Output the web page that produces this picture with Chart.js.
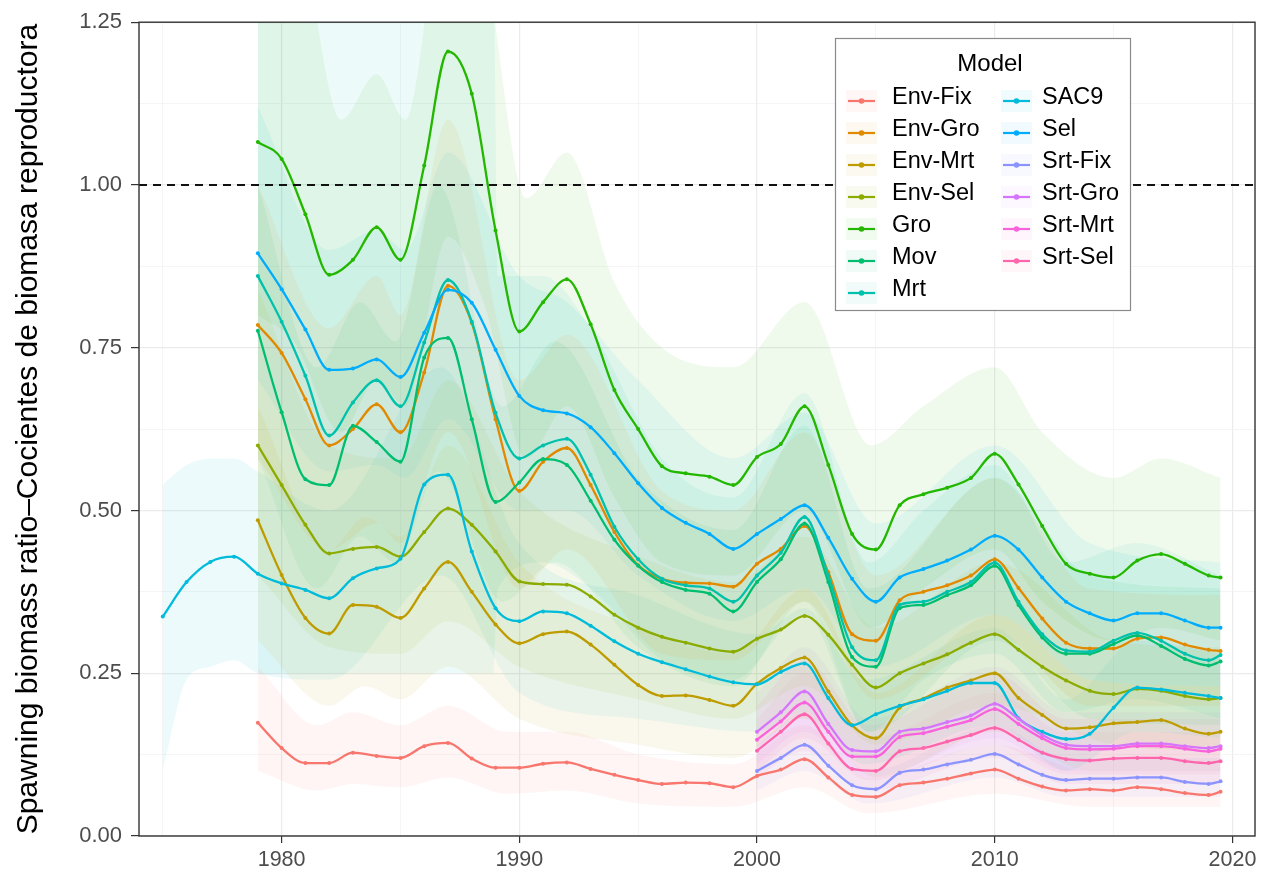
<!DOCTYPE html>
<html>
<head>
<meta charset="utf-8">
<title>Spawning biomass ratio by model</title>
<script src="https://cdn.jsdelivr.net/npm/chart.js@4.4.1/dist/chart.umd.min.js"></script>
<style>
  html, body { margin: 0; padding: 0; background: #ffffff; }
  canvas { display: block; }
</style>
</head>
<body>
<canvas id="sbr" width="1266" height="878"></canvas>
<script>
// ---- time axis (annual points, last one is mid-2019) ----
const YEARS = [1975,1976,1977,1978,1979,1980,1981,1982,1983,1984,1985,1986,1987,1988,1989,1990,
  1991,1992,1993,1994,1995,1996,1997,1998,1999,2000,2001,2002,2003,2004,2005,2006,2007,2008,2009,
  2010,2011,2012,2013,2014,2015,2016,2017,2018,2019,2019.5];
const YEARS_SAC9 = YEARS;                 // from 1975
const YEARS_MAIN = YEARS.slice(4);        // from 1979
const YEARS_SRT  = YEARS.slice(25);       // from 2000

const X_TICKS_MAJOR = [1980, 1990, 2000, 2010, 2020];
const Y_TICKS_MAJOR = [0, 0.25, 0.5, 0.75, 1, 1.25];
const REF_LEVEL = 1.0;

// ---- spawning biomass ratio, per model ----
const ENV_FIX = [0.174,0.135,0.112,0.112,0.128,0.123,0.120,0.138,0.143,0.119,
  0.105,0.105,0.111,0.113,0.103,0.094,0.086,0.080,0.082,0.081,
  0.075,0.092,0.102,0.118,0.090,0.063,0.060,0.078,0.082,0.088,
  0.096,0.102,0.088,0.076,0.070,0.072,0.070,0.075,0.072,0.066,
  0.063,0.068];
const ENV_GRO = [0.785,0.742,0.671,0.600,0.625,0.663,0.620,0.712,0.845,0.788,
  0.640,0.530,0.575,0.596,0.539,0.467,0.416,0.395,0.389,0.388,
  0.383,0.418,0.441,0.476,0.405,0.310,0.300,0.362,0.375,0.385,
  0.400,0.425,0.381,0.334,0.297,0.288,0.288,0.303,0.305,0.294,
  0.286,0.284];
const ENV_MRT = [0.485,0.401,0.335,0.311,0.355,0.352,0.335,0.380,0.421,0.375,
  0.325,0.296,0.310,0.314,0.294,0.263,0.232,0.215,0.216,0.209,
  0.200,0.234,0.258,0.274,0.222,0.170,0.150,0.197,0.211,0.228,
  0.239,0.250,0.212,0.186,0.165,0.167,0.173,0.175,0.178,0.165,
  0.157,0.160];
const ENV_SEL = [0.600,0.539,0.478,0.434,0.441,0.444,0.429,0.467,0.503,0.478,
  0.437,0.391,0.387,0.386,0.368,0.340,0.320,0.306,0.297,0.288,
  0.283,0.303,0.317,0.338,0.309,0.263,0.228,0.250,0.265,0.279,
  0.297,0.310,0.286,0.260,0.239,0.223,0.218,0.226,0.223,0.215,
  0.210,0.212];
const GRO = [1.066,1.040,0.955,0.862,0.885,0.935,0.885,1.030,1.205,1.140,
  0.930,0.775,0.820,0.855,0.786,0.685,0.625,0.568,0.557,0.552,
  0.539,0.582,0.602,0.660,0.570,0.464,0.440,0.508,0.525,0.535,
  0.550,0.587,0.540,0.476,0.418,0.403,0.397,0.423,0.433,0.418,
  0.400,0.397];
const MOV = [0.776,0.651,0.548,0.539,0.630,0.605,0.575,0.735,0.765,0.640,
  0.513,0.543,0.579,0.570,0.515,0.455,0.415,0.390,0.378,0.372,
  0.345,0.390,0.425,0.480,0.390,0.275,0.260,0.350,0.355,0.370,
  0.385,0.415,0.355,0.305,0.280,0.280,0.295,0.308,0.292,0.272,
  0.262,0.268];
const MRT = [0.860,0.790,0.707,0.615,0.666,0.700,0.660,0.758,0.854,0.790,
  0.650,0.580,0.600,0.610,0.555,0.475,0.425,0.395,0.385,0.380,
  0.360,0.400,0.435,0.490,0.400,0.290,0.270,0.355,0.360,0.375,
  0.390,0.420,0.360,0.310,0.285,0.283,0.300,0.312,0.300,0.280,
  0.270,0.278];
const SAC9 = [0.337,0.390,0.421,0.429,0.403,0.388,0.378,0.365,0.396,0.411,
  0.426,0.540,0.555,0.437,0.350,0.330,0.345,0.342,0.323,0.299,
  0.280,0.267,0.256,0.245,0.236,0.233,0.252,0.265,0.212,0.170,
  0.187,0.200,0.210,0.223,0.235,0.235,0.181,0.160,0.149,0.157,
  0.197,0.228,0.225,0.220,0.215,0.212];
const SEL = [0.895,0.840,0.778,0.716,0.718,0.732,0.705,0.773,0.839,0.819,
  0.747,0.676,0.654,0.649,0.628,0.588,0.542,0.504,0.481,0.464,
  0.441,0.464,0.487,0.508,0.458,0.395,0.360,0.397,0.410,0.423,
  0.440,0.461,0.440,0.397,0.360,0.342,0.331,0.342,0.342,0.331,
  0.320,0.320];
const SRT_FIX = [0.100,0.120,0.140,0.108,0.078,0.072,0.097,0.102,0.110,0.117,
  0.126,0.110,0.094,0.086,0.088,0.088,0.090,0.090,0.083,0.080,0.084];
const SRT_GRO = [0.160,0.190,0.222,0.172,0.132,0.130,0.160,0.165,0.175,0.185,
  0.203,0.180,0.155,0.140,0.138,0.138,0.142,0.142,0.138,0.135,0.138];
const SRT_MRT = [0.148,0.176,0.205,0.160,0.122,0.122,0.152,0.158,0.168,0.178,
  0.195,0.172,0.150,0.135,0.133,0.134,0.138,0.138,0.134,0.130,0.134];
const SRT_SEL = [0.131,0.160,0.187,0.142,0.103,0.100,0.130,0.135,0.145,0.155,
  0.166,0.148,0.128,0.118,0.116,0.119,0.120,0.120,0.115,0.112,0.115];

// ---- uncertainty bands (year, lower, upper) ----
const ENV_FIX_BX = [1979,1981.5,1983,1985,1987,1989.5,1992,1995,1999,2002,2004.7,2010,2014,2019.5];
const ENV_FIX_LO = [0.10,0.07,0.08,0.075,0.09,0.065,0.07,0.05,0.045,0.075,0.035,0.065,0.045,0.045];
const ENV_FIX_HI = [0.26,0.17,0.19,0.17,0.20,0.16,0.16,0.125,0.11,0.17,0.09,0.14,0.10,0.10];

const ENV_GRO_BX = [1979,1982,1984,1985,1987,1990,1992,1996,1999,2002,2005,2010,2014,2019.5];
const ENV_GRO_LO = [0.58,0.44,0.48,0.45,0.62,0.38,0.44,0.28,0.27,0.36,0.21,0.31,0.20,0.20];
const ENV_GRO_HI = [1.00,0.78,0.86,0.80,1.10,0.70,0.77,0.53,0.50,0.62,0.40,0.55,0.38,0.37];

const ENV_MRT_BX = [1979,1982,1983.5,1985,1987,1990,1995,1999,2002,2005,2010,2014,2019.5];
const ENV_MRT_LO = [0.30,0.20,0.23,0.21,0.26,0.18,0.14,0.12,0.18,0.09,0.16,0.10,0.10];
const ENV_MRT_HI = [0.66,0.44,0.49,0.46,0.60,0.42,0.32,0.28,0.38,0.22,0.34,0.24,0.23];

const ENV_SEL_BX = [1979,1982,1985,1987,1990,1995,1999,2002,2005,2010,2015,2019.5];
const ENV_SEL_LO = [0.40,0.29,0.28,0.33,0.26,0.21,0.18,0.23,0.14,0.20,0.14,0.13];
const ENV_SEL_HI = [0.84,0.60,0.58,0.70,0.53,0.43,0.39,0.46,0.32,0.42,0.30,0.29];

const GRO_BX = [1979,1980.5,1982.5,1984,1985.2,1987,1988.5,1990.3,1992,1994,1996,1999,2002,2004.8,2007,2010,2012,2015,2017,2019.5];
const GRO_LO = [0.80,0.76,0.62,0.70,0.66,0.92,0.82,0.58,0.66,0.52,0.42,0.40,0.50,0.32,0.38,0.44,0.36,0.30,0.32,0.30];
const GRO_HI = [1.40,1.40,1.10,1.17,1.10,1.45,1.35,0.98,1.05,0.85,0.75,0.72,0.82,0.60,0.66,0.72,0.62,0.55,0.58,0.55];

const MOV_BX = [1979,1981.5,1983.3,1984.8,1986.6,1989.3,1991.5,1995,1999,2002,2004.7,2010,2014,2019.5];
const MOV_LO = [0.58,0.38,0.46,0.42,0.56,0.36,0.42,0.29,0.23,0.36,0.16,0.30,0.18,0.17];
const MOV_HI = [1.00,0.72,0.82,0.76,1.00,0.66,0.76,0.55,0.47,0.63,0.38,0.55,0.40,0.38];

const MRT_BX = [1979,1988.9,1989.1,1991,1993,1996,1999,2002,2004.7,2007,2010,2013,2016,2019.5];
const MRT_LO = [0.25,0.25,0.38,0.42,0.38,0.27,0.24,0.34,0.16,0.24,0.28,0.19,0.21,0.18];
const MRT_HI = [1.35,1.35,0.86,0.86,0.78,0.58,0.52,0.68,0.42,0.50,0.57,0.42,0.45,0.40];

const SAC9_BX = [1975,1976,1977,1978,1979,1982,1986.7,1990,1995,2000,2002,2004.5,2010,2013,2016,2019.5];
const SAC9_LO = [0.10,0.24,0.26,0.27,0.25,0.24,0.40,0.22,0.18,0.16,0.19,0.11,0.17,0.10,0.16,0.15];
const SAC9_HI = [0.54,0.57,0.58,0.58,0.56,0.50,0.72,0.45,0.37,0.31,0.35,0.24,0.32,0.21,0.30,0.28];

const SEL_BX = [1979,1982,1984,1985.2,1987,1990,1992,1995,1999,2002,2005,2010,2014,2019.5];
const SEL_LO = [0.70,0.56,0.57,0.55,0.64,0.50,0.50,0.40,0.33,0.38,0.26,0.34,0.24,0.23];
const SEL_HI = [1.12,0.90,0.93,0.90,1.05,0.86,0.82,0.70,0.58,0.65,0.48,0.60,0.45,0.42];

const SRT_BX = [2000,2002,2004.7,2010,2013,2019.5];
const SRT_FIX_LO = [0.07,0.10,0.05,0.09,0.06,0.06];
const SRT_FIX_HI = [0.14,0.19,0.10,0.17,0.12,0.12];
const SRT_GRO_LO = [0.11,0.16,0.09,0.15,0.10,0.10];
const SRT_GRO_HI = [0.22,0.29,0.18,0.26,0.19,0.19];
const SRT_MRT_LO = [0.10,0.15,0.085,0.14,0.095,0.095];
const SRT_MRT_HI = [0.20,0.27,0.17,0.25,0.18,0.18];
const SRT_SEL_LO = [0.09,0.13,0.07,0.12,0.08,0.08];
const SRT_SEL_HI = [0.18,0.25,0.15,0.22,0.16,0.16];

// ---- model table ----
const SERIES = [
  { name: 'Env-Fix', color: '#F8766D', x: YEARS_MAIN, y: ENV_FIX, bx: ENV_FIX_BX, lo: ENV_FIX_LO, hi: ENV_FIX_HI },
  { name: 'Env-Gro', color: '#E18A00', x: YEARS_MAIN, y: ENV_GRO, bx: ENV_GRO_BX, lo: ENV_GRO_LO, hi: ENV_GRO_HI },
  { name: 'Env-Mrt', color: '#BE9C00', x: YEARS_MAIN, y: ENV_MRT, bx: ENV_MRT_BX, lo: ENV_MRT_LO, hi: ENV_MRT_HI },
  { name: 'Env-Sel', color: '#8CAB00', x: YEARS_MAIN, y: ENV_SEL, bx: ENV_SEL_BX, lo: ENV_SEL_LO, hi: ENV_SEL_HI },
  { name: 'Gro',     color: '#24B700', x: YEARS_MAIN, y: GRO,     bx: GRO_BX,     lo: GRO_LO,     hi: GRO_HI },
  { name: 'Mov',     color: '#00BE70', x: YEARS_MAIN, y: MOV,     bx: MOV_BX,     lo: MOV_LO,     hi: MOV_HI },
  { name: 'Mrt',     color: '#00C1AB', x: YEARS_MAIN, y: MRT,     bx: MRT_BX,     lo: MRT_LO,     hi: MRT_HI },
  { name: 'SAC9',    color: '#00BBDA', x: YEARS_SAC9, y: SAC9,    bx: SAC9_BX,    lo: SAC9_LO,    hi: SAC9_HI },
  { name: 'Sel',     color: '#00ACFC', x: YEARS_MAIN, y: SEL,     bx: SEL_BX,     lo: SEL_LO,     hi: SEL_HI },
  { name: 'Srt-Fix', color: '#8B93FF', x: YEARS_SRT,  y: SRT_FIX, bx: SRT_BX,     lo: SRT_FIX_LO, hi: SRT_FIX_HI },
  { name: 'Srt-Gro', color: '#D575FE', x: YEARS_SRT,  y: SRT_GRO, bx: SRT_BX,     lo: SRT_GRO_LO, hi: SRT_GRO_HI },
  { name: 'Srt-Mrt', color: '#F962DD', x: YEARS_SRT,  y: SRT_MRT, bx: SRT_BX,     lo: SRT_MRT_LO, hi: SRT_MRT_HI },
  { name: 'Srt-Sel', color: '#FF65AC', x: YEARS_SRT,  y: SRT_SEL, bx: SRT_BX,     lo: SRT_SEL_LO, hi: SRT_SEL_HI }
];

const FONT = '"Liberation Sans", Arial, Helvetica, sans-serif';
const BAND_ALPHA = 0.075;

function rgba(hex, a) {
  const n = parseInt(hex.slice(1), 16);
  return `rgba(${(n >> 16) & 255},${(n >> 8) & 255},${n & 255},${a})`;
}
function pts(xs, ys) { return xs.map((x, i) => ({ x: x, y: ys[i] })); }

// bands first (filled between a hidden lower edge and the upper edge), then lines
const datasets = [];
SERIES.forEach((s) => {
  const loIndex = datasets.length;
  datasets.push({
    label: s.name + ' lower', data: pts(s.bx, s.lo),
    borderWidth: 0, pointRadius: 0, fill: false,
    cubicInterpolationMode: 'monotone', order: 1000
  });
  datasets.push({
    label: s.name + ' upper', data: pts(s.bx, s.hi),
    borderWidth: 0, pointRadius: 0, fill: loIndex,
    backgroundColor: rgba(s.color, BAND_ALPHA),
    cubicInterpolationMode: 'monotone', order: 1000
  });
});
SERIES.forEach((s, i) => {
  datasets.push({
    label: s.name, data: pts(s.x, s.y),
    borderColor: s.color, backgroundColor: s.color,
    borderWidth: 2.3, pointRadius: 2, pointBorderWidth: 0,
    pointBackgroundColor: s.color, fill: false,
    cubicInterpolationMode: 'monotone', order: 100 - i
  });
});

// dashed reference line and the panel frame
const panelPlugin = {
  id: 'panelFrame',
  afterDatasetsDraw(chart) {
    const { ctx, chartArea: a, scales } = chart;
    const py = scales.y.getPixelForValue(REF_LEVEL);
    ctx.save();
    ctx.setLineDash([8, 6]);
    ctx.lineWidth = 2;
    ctx.strokeStyle = '#111';
    ctx.beginPath();
    ctx.moveTo(a.left, py);
    ctx.lineTo(a.right, py);
    ctx.stroke();
    ctx.setLineDash([]);
    ctx.lineWidth = 1.4;
    ctx.strokeStyle = '#333';
    ctx.strokeRect(a.left, a.top, a.right - a.left, a.bottom - a.top);
    ctx.restore();
  }
};

// two-column legend box titled "Model"
const legendPlugin = {
  id: 'modelLegend',
  afterDraw(chart) {
    const ctx = chart.ctx;
    const box = { x: 835, y: 38, w: 295, h: 272 };
    const perCol = 7;
    ctx.save();
    ctx.fillStyle = '#ffffff';
    ctx.fillRect(box.x, box.y, box.w, box.h);
    ctx.strokeStyle = '#8a8a8a';
    ctx.lineWidth = 1.2;
    ctx.strokeRect(box.x + 0.5, box.y + 0.5, box.w, box.h);
    ctx.fillStyle = '#000';
    ctx.font = `24px ${FONT}`;
    ctx.textAlign = 'center';
    ctx.textBaseline = 'middle';
    ctx.fillText('Model', 990, 64);
    ctx.textAlign = 'left';
    ctx.font = `23.5px ${FONT}`;
    SERIES.forEach((s, i) => {
      const col = Math.floor(i / perCol);
      const row = i % perCol;
      const keyX = col === 0 ? 848 : 1003;
      const textX = col === 0 ? 892 : 1042;
      const ty = 98 + row * 32;
      const ky = ty + 3;
      ctx.fillStyle = rgba(s.color, 0.06);
      ctx.fillRect(keyX - 2, ky - 11, 31, 22);
      ctx.strokeStyle = s.color;
      ctx.lineWidth = 2.2;
      ctx.beginPath();
      ctx.moveTo(keyX, ky);
      ctx.lineTo(keyX + 27, ky);
      ctx.stroke();
      ctx.fillStyle = s.color;
      ctx.beginPath();
      ctx.arc(keyX + 13.5, ky, 2.8, 0, Math.PI * 2);
      ctx.fill();
      ctx.fillStyle = '#000';
      ctx.fillText(s.name, textX, ty);
    });
    ctx.restore();
  }
};

const isMajorX = (v) => X_TICKS_MAJOR.includes(Math.round(v * 1000) / 1000);
const isMajorY = (v) => Y_TICKS_MAJOR.includes(Math.round(v * 1000) / 1000);

new Chart(document.getElementById('sbr'), {
  type: 'line',
  data: { datasets },
  plugins: [panelPlugin, legendPlugin],
  options: {
    responsive: false,
    animation: false,
    devicePixelRatio: 1,
    events: [],
    layout: { padding: { left: 0, right: 11, top: 18, bottom: 0 } },
    plugins: {
      legend: { display: false },
      tooltip: { enabled: false },
      filler: { propagate: false, drawTime: 'beforeDatasetsDraw' }
    },
    scales: {
      x: {
        type: 'linear',
        min: 1974,
        max: 2020.95,
        afterFit: (scale) => { scale.height = 42; },
        border: { display: false },
        grid: {
          color: (c) => (c.tick && isMajorX(c.tick.value)) ? '#ebebeb' : '#f3f3f3',
          lineWidth: (c) => (c.tick && isMajorX(c.tick.value)) ? 1.2 : 0.8,
          tickColor: (c) => (c.tick && isMajorX(c.tick.value)) ? '#333' : 'rgba(0,0,0,0)',
          tickLength: 7,
          tickWidth: 1.2
        },
        ticks: {
          stepSize: 5,
          includeBounds: false,
          autoSkip: false,
          maxRotation: 0,
          padding: 4,
          color: '#4d4d4d',
          font: { family: FONT, size: 21.5 },
          callback: (v) => isMajorX(v) ? String(v) : ''
        }
      },
      y: {
        type: 'linear',
        min: 0,
        max: 1.25,
        afterFit: (scale) => { scale.width = 139; },
        border: { display: false },
        grid: {
          color: (c) => (c.tick && isMajorY(c.tick.value)) ? '#ebebeb' : '#f3f3f3',
          lineWidth: (c) => (c.tick && isMajorY(c.tick.value)) ? 1.2 : 0.8,
          tickColor: (c) => (c.tick && isMajorY(c.tick.value)) ? '#333' : 'rgba(0,0,0,0)',
          tickLength: 8,
          tickWidth: 1.2
        },
        ticks: {
          stepSize: 0.125,
          autoSkip: false,
          padding: 9,
          color: '#4d4d4d',
          font: { family: FONT, size: 22 },
          callback: (v) => isMajorY(v) ? v.toFixed(2) : ''
        },
        title: {
          display: true,
          text: 'Spawning biomass ratio–Cocientes de biomasa reproductora',
          color: '#000',
          font: { family: FONT, size: 30 },
          padding: { top: 11, bottom: 0 }
        }
      }
    }
  }
});
</script>
</body>
</html>
